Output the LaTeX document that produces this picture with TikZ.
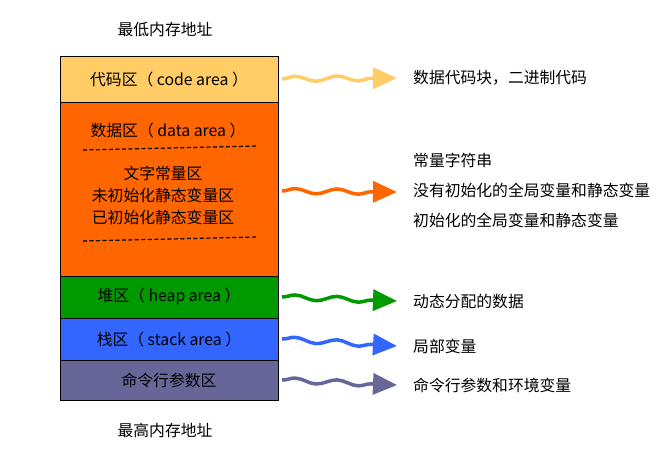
\documentclass[tikz,border=0pt]{standalone}
\usepackage{fontspec}
\setmainfont{Noto Sans CJK SC}
\usetikzlibrary{positioning}
\usetikzlibrary{arrows.meta}
\usetikzlibrary{decorations.pathmorphing}
\definecolor{codecol}{HTML}{FFCC66}
\definecolor{datacol}{HTML}{FF6600}
\definecolor{heapcol}{HTML}{009900}
\definecolor{stackcol}{HTML}{3366FF}
\definecolor{cmdcol}{HTML}{666699}
\tikzset{segment/.style={rectangle,draw=black,line width=1pt,outer sep=0pt,
inner sep=2pt,minimum width=218pt,font=\fontsize{15.8}{18}\selectfont}}
\tikzset{memnote/.style={anchor=west,inner sep=0pt,font=\fontsize{15.8}{18}\selectfont}}
\tikzset{wave/.style={line width=3.5pt,decorate,
decoration={snake,amplitude=2.5pt,segment length=42pt,post length=24pt},
-{Triangle[length=24pt,width=21pt]}}}

\begin{document}
\begin{tikzpicture}[x=1pt,y=-1pt]
    \useasboundingbox (0,0) rectangle (666,450);

    \node[inner sep=0pt,font=\fontsize{15.8}{18}\selectfont] (lowaddr) at (165,30) {最低内存地址};

    \node[segment,fill=codecol,minimum height=46pt] (code) at (169,79) {代码区（ code area ）};
    \node[segment,fill=datacol,minimum height=174pt] (data) [below=0pt of code] {};
    \node[segment,fill=heapcol,minimum height=42pt] (heap) [below=0pt of data] {堆区（ heap area ）};
    \node[segment,fill=stackcol,minimum height=42pt] (stack) [below=0pt of heap] {栈区（ stack area ）};
    \node[segment,fill=cmdcol,minimum height=40pt] (cmd) [below=0pt of stack] {命令行参数区};

    \node[inner sep=0pt,font=\fontsize{15.8}{18}\selectfont] (highaddr) at (165,430) {最高内存地址};

    % inside the data segment
    \node[inner sep=0pt,font=\fontsize{15.8}{18}\selectfont] (dataname) at (168,130) {数据区（ data area ）};
    \draw[line width=1.2pt,dash pattern=on 4pt off 2.5pt] (83,150) -- (257,146);
    \node[inner sep=0pt,font=\fontsize{15.8}{18}\selectfont,align=center] (dataparts) at (163,195)
        {文字常量区\\[4pt]未初始化静态变量区\\[4pt]已初始化静态变量区};
    \draw[line width=1.2pt,dash pattern=on 4pt off 2.5pt] (83,241) -- (257,237);

    % notes on the right
    \node[memnote] (codenote) at (413,78) {数据代码块，二进制代码};
    \node[memnote] (constnote) at (413,160) {常量字符串};
    \node[memnote] (bssnote) at (413,190) {没有初始化的全局变量和静态变量};
    \node[memnote] (initnote) at (413,220) {初始化的全局变量和静态变量};
    \node[memnote] (heapnote) at (413,301) {动态分配的数据};
    \node[memnote] (stacknote) at (413,346) {局部变量};
    \node[memnote] (cmdnote) at (413,385) {命令行参数和环境变量};

    \draw[wave,color=codecol] ([xshift=4pt]code.east) -- ([xshift=-16pt]codenote.west);
    \draw[wave,color=datacol] ([xshift=4pt,yshift=-2pt]data.east) -- ([xshift=-16pt,yshift=-2pt]bssnote.west);
    \draw[wave,color=heapcol] ([xshift=4pt]heap.east) -- ([xshift=-16pt]heapnote.west);
    \draw[wave,color=stackcol] ([xshift=4pt]stack.east) -- ([xshift=-16pt]stacknote.west);
    \draw[wave,color=cmdcol] ([xshift=4pt]cmd.east) -- ([xshift=-16pt]cmdnote.west);

\end{tikzpicture}
\end{document}
